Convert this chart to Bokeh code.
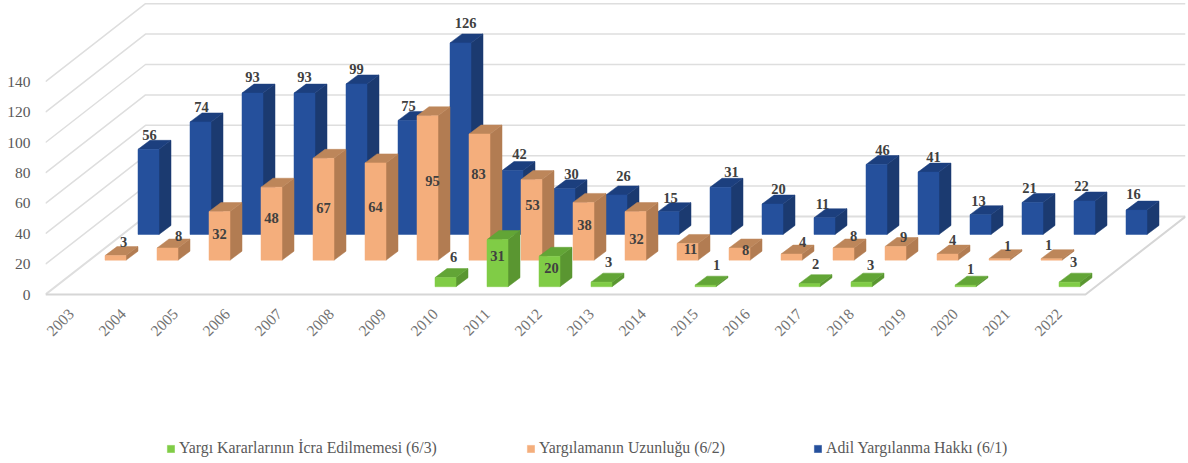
import math
from bokeh.plotting import figure
from bokeh.models import Range1d, FixedTicker, Legend, LegendItem, ColumnDataSource
from bokeh.core.properties import value
from bokeh.embed import file_html
from bokeh.resources import INLINE

years = ["2003","2004","2005","2006","2007","2008","2009","2010","2011","2012","2013","2014","2015","2016","2017","2018","2019","2020","2021","2022"]
y_ticks = [0,20,40,60,80,100,120,140]
blue_name = "Adil Yargılanma Hakkı (6/1)"
orange_name = "Yargılamanın Uzunluğu (6/2)"
green_name = "Yargı Kararlarının İcra Edilmemesi (6/3)"
blue = [56,74,93,93,99,75,126,42,30,26,15,31,20,11,46,41,13,21,22,16]
orange = [3,8,32,48,67,64,95,83,53,38,32,11,8,4,8,9,4,1,1,None]
green = [None,None,None,None,None,None,None,6,31,20,3,None,1,None,2,3,None,1,None,3]

# label nudges in pixels (dx, dy from the front-top centre of each bar)
blue_off = [(1,-14),(1,-15),(0,-16),(0,-16),(0,-15),(0,-14),(5,-20),(7,-17),(7,-15),(7,-19),(2,-14),(11,-15),(6,-15),(-2,-14),(6,-15),(5,-15),(-2,-14),(-3,-15),(-3,-15),(-3,-16)]
orange_off = [(8,-14),(11,-12),(0,22),(0,31),(0,50),(0,44),(5,65),(-1,40),(1,25),(1,23),(1,27),(3,6),(6,2),(11,-12),(10,-12),(8,-10),(5,-14),(8,-13),(-3,-14),(0,0)]
green_off = [(0,0)]*7+[(8,-21),(0,16),(2,12),(7,-20),(0,0),(11,-20),(0,0),(6,-20),(9,-17),(0,0),(5,-16),(0,0),(4,-20)]

PX_X = 52.0        # pixels per category
PX_Y = 1.52        # pixels per value unit
BACK = (100/PX_X, 78/PX_Y)
HALF = 10.5/PX_X
SIDE = (12/PX_X, 9/PX_Y)

p = figure(width=1188, height=463, output_backend="svg", toolbar_location=None,
           x_range=Range1d(-0.5, (1185-45)/PX_X-0.5), y_range=Range1d((294-463)/PX_Y, 294/PX_Y),
           min_border_left=45, min_border_right=3, min_border_top=0, min_border_bottom=0,
           background_fill_color="white", border_fill_color="white", outline_line_color=None)
p.styles = {"position":"absolute","left":"0px","top":"0px"}
p.grid.visible = False

# walls and floor
x0, x1 = -0.5, -0.5 + 20
for t in y_ticks:
    c = "#DEDEDE"
    w = 2 if t == 0 else 1.5
    p.line([x0, x0+BACK[0], x1+BACK[0]], [t, t+BACK[1], t+BACK[1]], line_color=c, line_width=w)
p.line([x0, x1, x1+BACK[0]], [0, 0, BACK[1]], line_color="#D6D6D6", line_width=2)

def row(vals, depth, front, side, top, off):
    dx, dy = BACK[0]*depth, BACK[1]*depth
    F={"x":[], "y":[]}; S={"x":[], "y":[]}; T={"x":[], "y":[]}
    L={"x":[], "y":[], "t":[], "ox":[], "oy":[]}
    for i, v in enumerate(vals):
        if v is None:
            continue
        l, r = i-HALF+dx, i+HALF+dx
        b, h = dy, dy+v
        F["x"].append([l,r,r,l]); F["y"].append([b,b,h,h])
        S["x"].append([r,r+SIDE[0],r+SIDE[0],r]); S["y"].append([b,b+SIDE[1],h+SIDE[1],h])
        T["x"].append([l,r,r+SIDE[0],l+SIDE[0]]); T["y"].append([h,h,h+SIDE[1],h+SIDE[1]])
        L["x"].append(i+dx); L["y"].append(h); L["t"].append(str(v)); L["ox"].append(off[i][0]); L["oy"].append(off[i][1])
    p.patches("x","y",source=ColumnDataSource(S),fill_color=side,line_color=side,line_width=0.5)
    p.patches("x","y",source=ColumnDataSource(T),fill_color=top,line_color=top,line_width=0.5)
    r = p.patches("x","y",source=ColumnDataSource(F),fill_color=front,line_color=front,line_width=0.5)
    return r, L

r_b, lb = row(blue, 0.77, "#25509C", "#1B3A70", "#1C3F7E", blue_off)
r_o, lo = row(orange, 0.44, "#F4AE7C", "#B27C52", "#BD865A", orange_off)
r_g, lg = row(green, 0.10, "#80CC46", "#5A9631", "#62A536", green_off)

for L in (lb, lo, lg):
    p.text("x","y",text="t",source=ColumnDataSource(L),x_offset="ox",y_offset="oy",
           text_font=value("Liberation Serif"),text_font_style="bold",text_font_size="14.5px",
           text_color="#404040",text_align="center",text_baseline="middle")

ya = p.yaxis[0]
ya.ticker = FixedTicker(ticks=y_ticks)
ya.axis_line_color=None; ya.major_tick_line_color=None; ya.minor_tick_line_color=None
ya.major_label_text_font="Liberation Serif"; ya.major_label_text_font_size="15.5px"
ya.major_label_text_color="#595959"; ya.major_label_standoff=9

xa = p.xaxis[0]
xa.fixed_location = 0
xa.ticker = FixedTicker(ticks=list(range(20)))
xa.major_label_overrides = {i:y for i,y in enumerate(years)}
xa.axis_line_color=None; xa.major_tick_line_color=None; xa.minor_tick_line_color=None
xa.major_label_text_font="Liberation Serif"; xa.major_label_text_font_size="15.5px"
xa.major_label_text_color="#737373"; xa.major_label_standoff=11
xa.major_label_orientation=math.radians(45)

def legend(r, name, px):
    lg = Legend(items=[LegendItem(label=name, renderers=[r])], location=(px-45, 6),
                background_fill_alpha=0, border_line_color=None, margin=0, padding=0,
                glyph_width=9, glyph_height=9, label_standoff=4,
                label_text_font="Liberation Serif", label_text_font_size="15.8px",
                label_text_color="#595959")
    p.add_layout(lg)

legend(r_g, green_name, 166)
legend(r_o, orange_name, 526)
legend(r_b, blue_name, 813)

open("out.html","w").write(file_html(p, INLINE))
